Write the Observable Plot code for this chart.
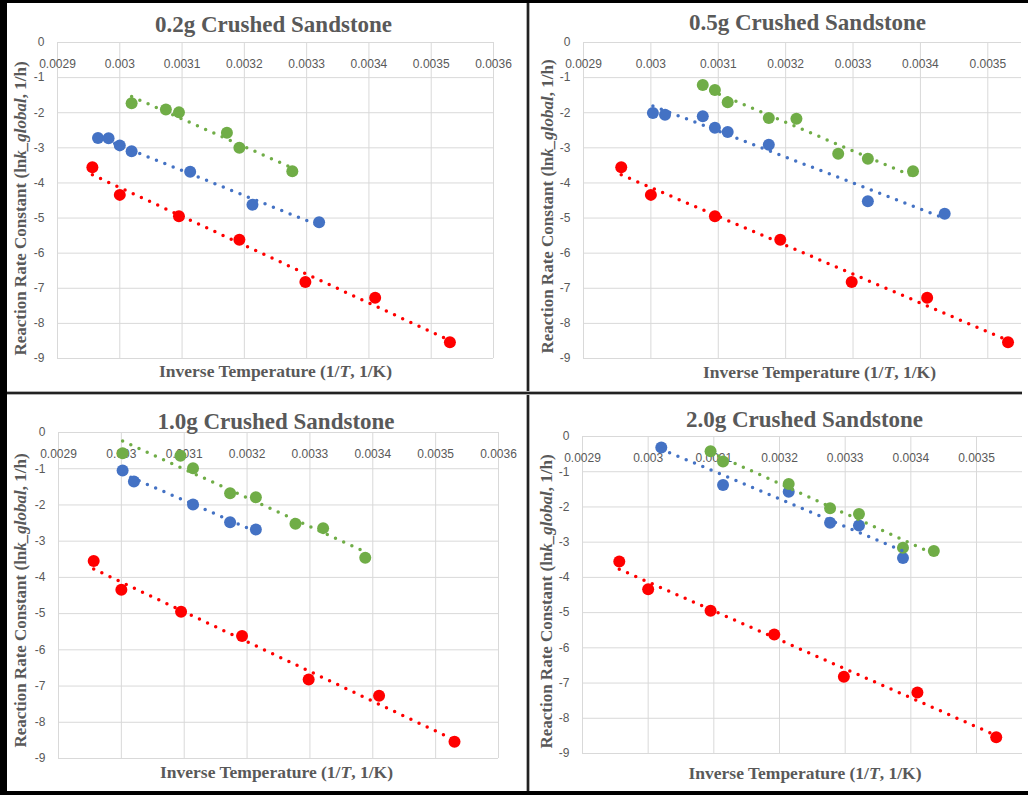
<!DOCTYPE html>
<html><head><meta charset="utf-8">
<script src="https://cdn.jsdelivr.net/npm/d3@7"></script>
<script src="https://cdn.jsdelivr.net/npm/@observablehq/plot@0.6"></script>
<style>
body{margin:0;background:#fff;}
#wrap{position:relative;width:1028px;height:795px;overflow:hidden;background:#fff;}
.bar{position:absolute;}
.panel{position:absolute;}
.panel svg{overflow:visible;}
</style></head><body><div id="wrap"></div>
<script>
// ---------- data ----------
const titles = ["0.2g Crushed Sandstone","0.5g Crushed Sandstone","1.0g Crushed Sandstone","2.0g Crushed Sandstone"];
const xTitle = "Inverse Temperature (1/T, 1/K)";
const yTitle = "Reaction Rate Constant (lnk_global, 1/h)";
const xTicksWide = [0.0029,0.003,0.0031,0.0032,0.0033,0.0034,0.0035,0.0036];
const xLabelsWide = ["0.0029","0.003","0.0031","0.0032","0.0033","0.0034","0.0035","0.0036"];
const xTicksNarrow = [0.0029,0.003,0.0031,0.0032,0.0033,0.0034,0.0035];
const xLabelsNarrow = ["0.0029","0.003","0.0031","0.0032","0.0033","0.0034","0.0035"];
const yTicks = [0,-1,-2,-3,-4,-5,-6,-7,-8,-9];
const yLabels = ["0","-1","-2","-3","-4","-5","-6","-7","-8","-9"];

// red series (same in all four panels)
const redX = [0.002956,0.003,0.003095,0.003192,0.003298,0.00341,0.00353];
const redY = [-3.55,-4.34,-4.95,-5.62,-6.82,-7.27,-8.54];
// 0.2 g
const green1X = [0.003019,0.003074,0.003095,0.003172,0.003192,0.003277];
const green1Y = [-1.73,-1.91,-1.99,-2.57,-3.0,-3.67];
const blue1X = [0.002965,0.002982,0.0030,0.003019,0.003113,0.003213,0.00332];
const blue1Y = [-2.72,-2.73,-2.93,-3.1,-3.68,-4.62,-5.12];
// 0.5 g
const green2X = [0.003077,0.003095,0.003114,0.003175,0.003216,0.003278,0.003322,0.003389];
const green2Y = [-1.21,-1.35,-1.70,-2.15,-2.17,-3.17,-3.31,-3.67];
const blue2X = [0.003003,0.003021,0.003077,0.003095,0.003114,0.003175,0.003322,0.003436];
const blue2Y = [-2.01,-2.06,-2.10,-2.43,-2.55,-2.91,-4.52,-4.88];
// 1.0 g
const green3X = [0.003002,0.003094,0.003114,0.003173,0.003214,0.003277,0.003321,0.003388];
const green3Y = [-0.57,-0.64,-0.99,-1.68,-1.79,-2.52,-2.64,-3.46];
const blue3X = [0.003002,0.00302,0.003114,0.003173,0.003214];
const blue3Y = [-1.05,-1.35,-1.99,-2.48,-2.68];
// 2.0 g
const green4X = [0.003095,0.003114,0.003214,0.003277,0.003321,0.003388,0.003435];
const green4Y = [-0.42,-0.71,-1.35,-2.04,-2.20,-3.16,-3.25];
const blue4X = [0.00302,0.003114,0.003214,0.003277,0.003321,0.003388];
const blue4Y = [-0.31,-1.38,-1.57,-2.45,-2.53,-3.45];

// ---------- styles / layout ----------
const RED = "#FF0000", BLUE = "#4472C4", GREEN = "#70AD47";
const TXT = "#595959", GRID = "#d9d9d9";
const serif = "'Liberation Serif','Times New Roman',serif";
const sans = "'Liberation Sans',Arial,sans-serif";

const pts = (xs, ys) => xs.map((x, i) => ({x, y: ys[i]}));
const panelSeries = [
  [[pts(blue1X, blue1Y), BLUE], [pts(green1X, green1Y), GREEN], [pts(redX, redY), RED]],
  [[pts(blue2X, blue2Y), BLUE], [pts(green2X, green2Y), GREEN], [pts(redX, redY), RED]],
  [[pts(blue3X, blue3Y), BLUE], [pts(green3X, green3Y), GREEN], [pts(redX, redY), RED]],
  [[pts(blue4X, blue4Y), BLUE], [pts(green4X, green4Y), GREEN], [pts(redX, redY), RED]]
];
const layout = [
  {sx:8, sy:4, sw:518, sh:387, L:57, R:493, T:42, B:358, xMax:0.0036, ticks:xTicksWide, labels:xLabelsWide,
   tDx:-2, tDy:-18, xlDx:0, xlDy:13, ylX:20, ylDy:8},
  {sx:530, sy:4, sw:498, sh:387, L:583, R:1021, T:42, B:358, xMax:0.00355, ticks:xTicksNarrow, labels:xLabelsNarrow,
   tDx:5, tDy:-20, xlDx:17, xlDy:14, ylX:547, ylDy:6},
  {sx:8, sy:396, sw:518, sh:394, L:58, R:498, T:432, B:758, xMax:0.0036, ticks:xTicksWide, labels:xLabelsWide,
   tDx:-2.5, tDy:-11, xlDx:-2, xlDy:14, ylX:20, ylDy:5},
  {sx:530, sy:396, sw:498, sh:394, L:582, R:1022, T:436, B:753, xMax:0.00357, ticks:xTicksNarrow, labels:xLabelsNarrow,
   tDx:2, tDy:-17, xlDx:2.5, xlDy:20, ylX:546, ylDy:6.5}
];

const wrap = document.getElementById("wrap");

layout.forEach((c, k) => {
  const marks = [
    Plot.gridX(c.ticks, {stroke: GRID, strokeOpacity: 1, strokeWidth: 1}),
    Plot.gridY(yTicks, {stroke: GRID, strokeOpacity: 1, strokeWidth: 1}),
    Plot.axisY(yTicks, {tickSize: 0, tickPadding: 13, tickFormat: (d) => yLabels[yTicks.indexOf(d)],
      fontSize: 12, fill: TXT, fontFamily: sans, label: null}),
    Plot.text(c.ticks, {x: (d) => d, text: (d, i) => c.labels[i], frameAnchor: "top", dy: 17,
      fontSize: 12, fill: TXT, fontFamily: sans})
  ];
  panelSeries[k].forEach(([data, color]) => {
    marks.push(Plot.dot(data, {x: "x", y: "y", r: 6, fill: color, stroke: "none"}));
  });
  panelSeries[k].forEach(([data, color]) => {
    marks.push(Plot.linearRegressionY(data, {x: "x", y: "y", stroke: color, ci: 0, strokeWidth: 3.5,
      strokeDasharray: "0 9", strokeLinecap: "round"}));
  });
  marks.push(
    Plot.text([titles[k]], {frameAnchor: "top", dx: c.tDx, dy: c.tDy, fontSize: 23, fontWeight: "bold",
      fontFamily: serif, fill: TXT, lineAnchor: "middle", textAnchor: "middle"}),
    Plot.text([xTitle], {frameAnchor: "bottom", dx: c.xlDx, dy: c.xlDy, fontSize: 17.5,
      fontWeight: "bold", fontFamily: serif, fill: TXT, lineAnchor: "middle", textAnchor: "middle"}),
    Plot.text([yTitle], {frameAnchor: "left", dx: c.ylX - c.L, dy: c.ylDy, rotate: -90,
      fontSize: 17, fontWeight: "bold", fontFamily: serif, fill: TXT, lineAnchor: "middle", textAnchor: "middle"})
  );
  const svg = Plot.plot({
    width: c.sw, height: c.sh,
    marginLeft: c.L - c.sx, marginRight: c.sx + c.sw - c.R,
    marginTop: c.T - c.sy, marginBottom: c.sy + c.sh - c.B,
    x: {domain: [0.0029, c.xMax], axis: null},
    y: {domain: [-9, 0]},
    style: {background: "transparent", overflow: "visible"},
    marks
  });
  // italic parts inside the axis titles
  svg.querySelectorAll("text").forEach((t) => {
    if (t.textContent === yTitle) {
      t.innerHTML = 'Reaction Rate Constant (ln<tspan font-style="italic">k_global</tspan>, 1/h)';
    } else if (t.textContent === xTitle) {
      t.innerHTML = 'Inverse Temperature (1/<tspan font-style="italic">T</tspan>, 1/K)';
    }
  });
  const div = document.createElement("div");
  div.className = "panel";
  div.style.left = c.sx + "px"; div.style.top = c.sy + "px";
  div.appendChild(svg);
  wrap.appendChild(div);
});

// frame / divider lines
function bar(l, t, w, h, col) {
  const b = document.createElement("div");
  b.className = "bar";
  Object.assign(b.style, {left: l + "px", top: t + "px", width: w + "px", height: h + "px", background: col});
  wrap.appendChild(b);
}
bar(526, 0, 4, 795, "#b0b0b0");
bar(527, 0, 2, 795, "#222");
bar(0, 391, 1022, 4, "#b0b0b0");
bar(0, 392, 1022, 2, "#222");
bar(0, 0, 1028, 3, "#000");
bar(0, 0, 7, 795, "#000");
bar(0, 791, 1028, 4, "#000");
</script></body></html>
